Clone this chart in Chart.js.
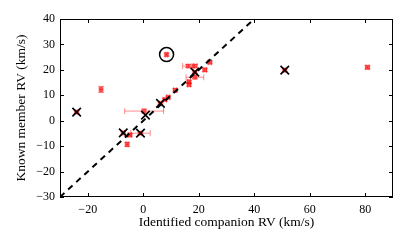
<!DOCTYPE html>
<html>
<head>
<meta charset="utf-8">
<script src="https://cdn.jsdelivr.net/npm/chart.js@4/dist/chart.umd.min.js"></script>
<style>
  html, body { margin: 0; padding: 0; background: #fff; }
  #wrap { width: 407px; height: 244px; }
</style>
</head>
<body>
<div id="wrap"><canvas id="rvChart"></canvas></div>
<script>
// companion RV vs known member RV (km/s)
const compRV   = [-24.0, -15.2, -7.2, -4.8, -5.8, -1.0, 0.3, 6.2, 7.8, 9.0, 11.5, 8.4, 16.2, 18.5, 22.2, 24.0, 18.6, 18.6, 16.5, 16.5, 51.0, 80.8];
const memberRV = [3.4, 12.3, -4.8, -5.6, -9.3, -4.9, 3.8, 6.8, 8.3, 9.2, 12.0, 26.0, 21.5, 21.5, 20.0, 23.0, 19.1, 17.1, 15.3, 14.2, 19.9, 21.0];
const compErr  = [0.5, 0.4, 0.5, 0.6, 0.4, 3.5, 7.0, 0.5, 0.6, 0.5, 0.6, 0.4, 2.0, 1.0, 0.6, 0.6, 0.6, 3.2, 0.5, 0.5, 0.5, 0.6];
const memberErr = [0.5, 1.2, 0.5, 0.5, 0.8, 0.5, 0.8, 0.5, 0.5, 0.5, 0.6, 0.6, 0.6, 0.6, 0.6, 0.6, 0.6, 0.6, 0.6, 0.6, 0.5, 0.6];

// flagged pairs (black crosses)
const crossX = [-24.0, -7.2, -1.0, 0.8, 6.2, 18.6, 51.0];
const crossY = [3.4, -4.8, -4.9, 2.2, 6.8, 19.1, 19.9];

// circled outlier
const circleX = [8.4];
const circleY = [26.0];

// one-to-one line
const lineX = [-30, 90];
const lineY = [-30, 90];

const xTicks = [-20, 0, 20, 40, 60, 80];
const yTicks = [-30, -20, -10, 0, 10, 20, 30, 40];

const toPts = (xs, ys) => xs.map((x, i) => ({ x: x, y: ys[i] }));
const minus = v => String(v).replace('-', '\u2212');

const errorBars = {
  id: 'errorBars',
  beforeDatasetsDraw(chart) {
    const { ctx, chartArea, scales: { x, y } } = chart;
    ctx.save();
    ctx.beginPath();
    ctx.rect(chartArea.left, chartArea.top, chartArea.right - chartArea.left, chartArea.bottom - chartArea.top);
    ctx.clip();
    ctx.strokeStyle = 'rgba(255,0,0,0.45)';
    ctx.lineWidth = 1;
    const cap = 3;
    compRV.forEach((cx, i) => {
      const px = x.getPixelForValue(cx);
      const py = y.getPixelForValue(memberRV[i]);
      const x0 = x.getPixelForValue(cx - compErr[i]);
      const x1 = x.getPixelForValue(cx + compErr[i]);
      const y0 = y.getPixelForValue(memberRV[i] - memberErr[i]);
      const y1 = y.getPixelForValue(memberRV[i] + memberErr[i]);
      ctx.beginPath();
      ctx.moveTo(x0, py); ctx.lineTo(x1, py);
      ctx.moveTo(x0, py - cap); ctx.lineTo(x0, py + cap);
      ctx.moveTo(x1, py - cap); ctx.lineTo(x1, py + cap);
      ctx.moveTo(px, y0); ctx.lineTo(px, y1);
      ctx.moveTo(px - cap, y0); ctx.lineTo(px + cap, y0);
      ctx.moveTo(px - cap, y1); ctx.lineTo(px + cap, y1);
      ctx.stroke();
    });
    ctx.restore();
  }
};

// box around the plot with inward ticks on all sides
const frame = {
  id: 'frame',
  afterDraw(chart) {
    const { ctx, chartArea: a, scales: { x, y } } = chart;
    ctx.save();
    ctx.strokeStyle = '#000';
    ctx.lineWidth = 1;
    ctx.strokeRect(a.left + 0.5, a.top + 0.5, a.right - a.left - 1, a.bottom - a.top - 1);
    const len = 4;
    ctx.beginPath();
    x.ticks.forEach(t => {
      const px = Math.round(x.getPixelForValue(t.value)) + 0.5;
      ctx.moveTo(px, a.bottom); ctx.lineTo(px, a.bottom - len);
      ctx.moveTo(px, a.top); ctx.lineTo(px, a.top + len);
    });
    y.ticks.forEach(t => {
      const py = Math.round(y.getPixelForValue(t.value)) + 0.5;
      ctx.moveTo(a.left, py); ctx.lineTo(a.left + len, py);
      ctx.moveTo(a.right, py); ctx.lineTo(a.right - len, py);
    });
    ctx.stroke();
    ctx.restore();
  }
};

const font = { family: '"Liberation Serif", "DejaVu Serif", serif', size: 12 };
const titleFont = { family: '"Liberation Serif", "DejaVu Serif", serif', size: 13.5 };

new Chart(document.getElementById('rvChart'), {
  type: 'scatter',
  data: {
    datasets: [
      {
        data: toPts(circleX, circleY),
        pointStyle: 'circle',
        pointRadius: 7,
        backgroundColor: 'rgba(0,0,0,0)',
        borderColor: '#000',
        borderWidth: 1.5
      },
      {
        data: toPts(crossX, crossY),
        pointStyle: 'crossRot',
        pointRadius: 6,
        borderColor: '#000',
        borderWidth: 1.6
      },
      {
        data: toPts(lineX, lineY),
        showLine: true,
        pointRadius: 0,
        borderColor: '#000',
        borderWidth: 2,
        borderDash: [6, 5]
      },
      {
        data: toPts(compRV, memberRV),
        pointStyle: 'rect',
        pointRadius: 3,
        backgroundColor: 'rgba(255,0,0,0.55)',
        borderColor: 'rgba(255,0,0,0.3)',
        borderWidth: 1
      }
    ]
  },
  options: {
    responsive: true,
    maintainAspectRatio: false,
    animation: false,
    layout: { padding: { top: 19, right: 14, left: 0, bottom: 0 } },
    plugins: { legend: { display: false }, tooltip: { enabled: false } },
    scales: {
      x: {
        type: 'linear',
        min: -30,
        max: 90,
        afterBuildTicks: s => { s.ticks = xTicks.map(v => ({ value: v })); },
        afterFit: s => { s.height = 47; },
        grid: { display: false, drawTicks: false },
        border: { display: false },
        ticks: { color: '#000', font: font, padding: 6, maxRotation: 0, callback: v => minus(v) },
        title: { display: true, text: 'Identified companion RV (km/s)', color: '#000', font: titleFont, padding: { top: 0, bottom: 13 } }
      },
      y: {
        type: 'linear',
        min: -30,
        max: 40,
        afterBuildTicks: s => { s.ticks = yTicks.map(v => ({ value: v })); },
        afterFit: s => { s.width = 60; },
        grid: { display: false, drawTicks: false },
        border: { display: false },
        ticks: { color: '#000', font: font, padding: 5, callback: v => minus(v) },
        title: { display: true, text: 'Known member RV (km/s)', color: '#000', font: titleFont, padding: { top: 13, bottom: 0 } }
      }
    }
  },
  plugins: [errorBars, frame]
});
</script>
</body>
</html>
